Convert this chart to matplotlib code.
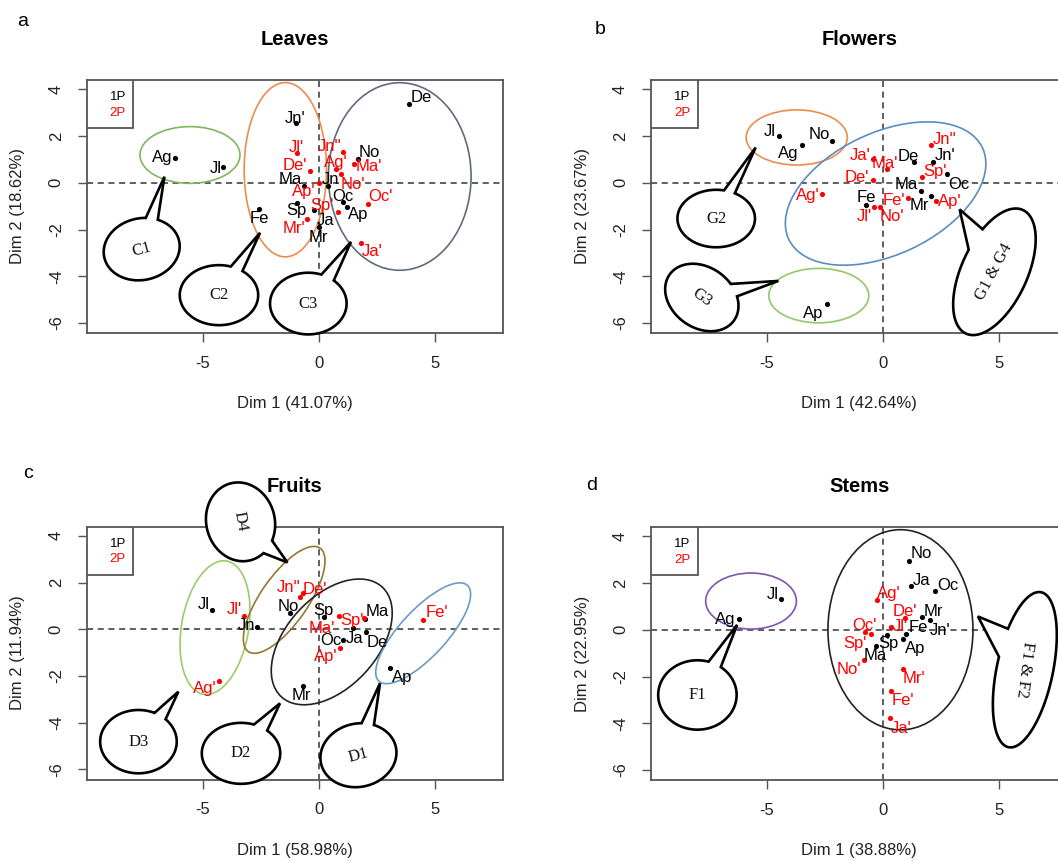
import numpy as np
import matplotlib
matplotlib.use("Agg")
import matplotlib.pyplot as plt
from matplotlib.patches import Ellipse, Polygon, Rectangle

plt.rcParams['font.family'] = ['Liberation Sans', 'DejaVu Sans']

# ---------------- data ----------------
# a) Leaves
leaves_1p_names = ['De', 'Ag', 'Jl', "Jn'", 'Fe', 'Ma', 'Sp', 'Ja', 'Mr', 'Jn', 'Oc', 'Ap', 'No']
leaves_1p_x = [3.91, -6.18, -4.11, -0.99, -2.57, -0.62, -0.95, -0.20, 0.00, 0.42, 1.03, 1.21, 1.67]
leaves_1p_y = [3.39, 1.07, 0.69, 2.54, -1.11, -0.13, -0.86, -1.17, -1.89, -0.13, -0.84, -1.03, 1.01]
leaves_2p_names = ["Jl'", "Jn''", "De'", "Ag'", "Ma'", "No'", "Ap'", "Sp'", "Oc'", "Mr'", "Ja'"]
leaves_2p_x = [-0.93, 1.03, -0.37, 0.75, 1.52, 0.96, 0.00, 0.85, 2.13, -0.50, 1.80]
leaves_2p_y = [1.29, 1.33, 0.50, 0.57, 0.79, 0.37, 0.00, -1.27, -0.90, -1.53, -2.56]

# b) Flowers
flowers_1p_names = ['Jl', 'Ag', 'No', 'De', "Jn'", 'Oc', 'Ma', 'Mr', 'Fe', 'Ap']
flowers_1p_x = [-4.48, -3.51, -2.18, 1.33, 2.15, 2.75, 1.62, 2.05, -0.74, -2.42]
flowers_1p_y = [1.99, 1.63, 1.81, 0.90, 0.90, 0.37, -0.36, -0.57, -0.93, -5.21]
flowers_2p_names = ["Jn''", "Ja'", "Ma'", "Sp'", "De'", "Ag'", "Fe'", "Ap'", "Jl'", "No'"]
flowers_2p_x = [2.08, -0.43, 0.19, 1.69, -0.43, -2.61, 1.07, 2.29, -0.40, -0.14]
flowers_2p_y = [1.63, 1.00, 0.59, 0.23, 0.14, -0.50, -0.67, -0.77, -1.03, -1.03]

# c) Fruits
fruits_1p_names = ['Jl', 'Jn', 'No', 'Sp', 'Ma', 'Ja', 'De', 'Oc', 'Mr', 'Ap']
fruits_1p_x = [-4.58, -2.64, -1.26, 0.24, 2.00, 1.49, 2.04, 1.06, -0.70, 3.07]
fruits_1p_y = [0.83, 0.10, 0.69, 0.51, 0.44, 0.04, -0.13, -0.46, -2.41, -1.67]
fruits_2p_names = ["Jl'", "Jn''", "De'", "Ma'", "Sp'", "Ap'", "Ag'", "Fe'"]
fruits_2p_x = [-3.20, -0.80, -0.66, 0.89, 1.96, 0.92, -4.28, 4.51]
fruits_2p_y = [0.57, 1.37, 1.54, 0.57, 0.47, -0.81, -2.21, 0.40]

# d) Stems
stems_1p_names = ['No', 'Ja', 'Oc', 'Jl', 'Ag', 'Mr', "Jn'", 'Fe', 'Sp', 'Ap', 'Ma']
stems_1p_x = [1.12, 1.22, 2.24, -4.41, -6.22, 1.70, 2.01, 1.01, 0.19, 0.86, -0.29]
stems_1p_y = [2.96, 1.89, 1.67, 1.31, 0.46, 0.54, 0.40, -0.17, -0.21, -0.40, -0.69]
stems_2p_names = ["Ag'", "De'", "Oc'", "Jl'", "Sp'", "No'", "Mr'", "Fe'", "Ja'"]
stems_2p_x = [-0.24, 0.96, -0.79, 0.36, -0.50, -0.83, 0.86, 0.36, 0.32]
stems_2p_y = [1.26, 0.50, -0.09, 0.13, -0.19, -1.30, -1.66, -2.64, -3.77]

titles = ['Leaves', 'Flowers', 'Fruits', 'Stems']
letters = ['a', 'b', 'c', 'd']
dim1_labels = ['Dim 1 (41.07%)', 'Dim 1 (42.64%)', 'Dim 1 (58.98%)', 'Dim 1 (38.88%)']
dim2_labels = ['Dim 2 (18.62%)', 'Dim 2 (23.67%)', 'Dim 2 (11.94%)', 'Dim 2 (22.95%)']
legend_labels = ['1P', '2P']
x_ticks = [-5, 0, 5]
y_ticks = [-6, -4, -2, 0, 2, 4]

# ---------------- label placement (pixel offsets) ----------------
off_a = {'De': (11.7, 6), 'Ag': (-13, 0), 'Jl': (-7.3, -2), "Jn'": (-0.7, 5), 'Fe': (0, -9.7),
         'Ma': (-14.3, 6.7), 'Sp': (-0.7, -7.3), 'Ja': (11, -10), 'Mr': (0, -10.7), 'Jn': (2.3, 6.7),
         'Oc': (0.7, 6.3), 'Ap': (11, -7.7), 'No': (12, 6.7),
         "Jl'": (-1, 5.3), "Jn''": (-13.3, 5.7), "De'": (-15, 6), "Ag'": (-0.7, 6.7), "Ma'": (14.3, -2.3),
         "No'": (12, -10), "Ap'": (-15.3, -9), "Sp'": (-16.7, 7), "Oc'": (12, 7), "Mr'": (-13.3, -10),
         "Ja'": (11.3, -9)}
off_b = {'Jl': (-9.7, 4.7), 'Ag': (-13.3, -8.7), 'No': (-12.7, 6.3), 'De': (-6, 5), "Jn'": (11.7, 6),
         'Oc': (12, -10.3), 'Ma': (-14.3, 6.7), 'Mr': (-11.7, -9), 'Fe': (0, 6.7), 'Ap': (-13.7, -9),
         "Jn''": (13.3, 5.7), "Ja'": (-13.3, 4.3), "Ma'": (-2.7, 5.7), "Sp'": (12.3, 6.3), "De'": (-16, 2),
         "Ag'": (-14.3, -0.7), "Fe'": (-14.3, -1.7), "Ap'": (13.3, -0.3), "Jl'": (-9, -9.3),
         "No'": (11.7, -9.3)}
off_c = {'Jl': (-9, 5), 'Jn': (-10.7, 1), 'No': (-1, 6.7), 'Sp': (-1, 7.3), 'Ma': (11.7, 7.3),
         'Ja': (1.7, -10), 'De': (11, -10), 'Oc': (-12.7, 0), 'Mr': (-0.7, -10.3), 'Ap': (11.7, -9),
         "Jl'": (-10.3, 6.7), "Jn''": (-11.7, 10), "De'": (11.7, 4), "Ma'": (-17.7, -12.3),
         "Sp'": (-12.3, -2.3), "Ap'": (-14.3, -8.3), "Ag'": (-14.3, -7.3), "Fe'": (13.3, 7.3)}
off_d = {'No': (12.3, 7), 'Ja': (10, 5), 'Oc': (13, 5), 'Jl': (-8.3, 4.3), 'Ag': (-13, 0),
         'Mr': (10.7, 5.7), "Jn'": (10, -10), 'Fe': (11.7, 6.7), 'Sp': (0.7, -9), 'Ap': (11.7, -9),
         'Ma': (-0.7, -10), "Ag'": (11.7, 6.7), "De'": (-0.7, 6.7), "Oc'": (0, 6.3), "Jl'": (9, 0.3),
         "Sp'": (-16.7, -9), "No'": (-14.7, -9.7), "Mr'": (10.7, -9.7), "Fe'": (11.7, -9.3),
         "Ja'": (11, -10.3)}

# cluster ellipses: (cx, cy, width, height, angle, color)
ell_a = [(-5.55, 1.19, 4.31, 2.43, 0, '#7DB85E'), (-1.44, 0.56, 3.55, 7.46, 0, '#EE8C4E'),
         (3.49, 0.27, 6.15, 8.03, 0, '#5F6B7E')]
ell_b = [(-3.72, 1.94, 4.36, 2.36, 0, '#EE8C4E'), (0.11, -0.46, 9.22, 5.23, 25, '#5B8DBE'),
         (-2.77, -4.83, 4.31, 2.33, 0, '#92C86A')]
ell_c = [(-4.47, 0.07, 5.79, 2.89, 80, '#9CCB6C'), (-1.49, 1.26, 5.4, 2.04, 55, '#957830'),
         (0.56, -0.54, 6.4, 3.9, 47, '#222222'), (4.5, -0.17, 5.6, 2.0, 47, '#6A9BC6')]
ell_d = [(-5.69, 1.23, 3.91, 2.4, 0, '#7E55AE'), (0.75, 0.0, 6.25, 8.57, 0, '#222222')]

# speech bubbles: (center, w, h, angle, tip, base1, base2, text, text rotation)
bub_a = [((-7.63, -2.84), 3.3, 2.64, 12, (-6.65, 0.26), (-7.44, -1.39), (-6.87, -1.46), 'C1', 15),
         ((-4.30, -4.81), 3.38, 2.57, 0, (-2.53, -2.14), (-3.75, -3.49), (-3.25, -3.74), 'C2', 0),
         ((-0.45, -5.17), 3.3, 2.64, 0, (1.39, -2.53), (0.13, -3.89), (0.66, -4.17), 'C3', 0)]
bub_b = [((-7.19, -1.53), 3.34, 2.46, 0, (-5.49, 1.51), (-6.73, 0.11), (-6.16, -0.14), 'G2', 0),
         ((-7.81, -4.91), 3.4, 2.6, -35, (-4.51, -4.2), (-6.52, -4.31), (-6.3, -4.86), 'G3', -35),
         ((4.8, -3.81), 5.83, 2.83, 65, (3.3, -1.14), (4.3, -2.03), (3.72, -2.89), 'G1 & G4', 62)]
bub_c = [((-3.37, 4.6), 3.4, 2.95, -75, (-1.35, 2.86), (-2.46, 3.37), (-2.07, 3.83), 'D4', -80),
         ((-7.77, -4.81), 3.3, 2.71, 0, (-6.05, -2.67), (-7.05, -3.53), (-6.55, -3.81), 'D3', 0),
         ((-3.35, -5.31), 3.38, 2.61, 0, (-1.67, -3.17), (-2.74, -3.96), (-2.17, -4.29), 'D2', 0),
         ((1.71, -5.39), 3.3, 2.71, 12, (2.64, -2.31), (1.85, -4.0), (2.43, -4.0), 'D1', 15)]
bub_d = [((-8.0, -2.79), 3.38, 2.97, 0, (-6.29, 0.21), (-7.5, -1.31), (-6.97, -1.57), 'F1', 0),
         ((6.11, -1.71), 6.78, 2.42, 78, (4.09, 0.57), (5.39, 0.03), (4.96, -1.14), 'F1 & F2', -97)]

panels = [
    (leaves_1p_names, leaves_1p_x, leaves_1p_y, leaves_2p_names, leaves_2p_x, leaves_2p_y, off_a, ell_a, bub_a),
    (flowers_1p_names, flowers_1p_x, flowers_1p_y, flowers_2p_names, flowers_2p_x, flowers_2p_y, off_b, ell_b, bub_b),
    (fruits_1p_names, fruits_1p_x, fruits_1p_y, fruits_2p_names, fruits_2p_x, fruits_2p_y, off_c, ell_c, bub_c),
    (stems_1p_names, stems_1p_x, stems_1p_y, stems_2p_names, stems_2p_x, stems_2p_y, off_d, ell_d, bub_d),
]

W, H = 1058, 861
fig = plt.figure(figsize=(W / 100, H / 100), dpi=100)
positions = [
    [86.7 / W, 1 - 333 / H, 416.3 / W, 253 / H],
    [651 / W, 1 - 333 / H, 416.3 / W, 253 / H],
    [86.7 / W, 1 - 779.5 / H, 416.3 / W, 253 / H],
    [651 / W, 1 - 780 / H, 416.3 / W, 253 / H],
]
letter_pos = [(23, 22), (600, 29), (28, 473), (592, 485)]
FRAME = '#555555'


def bubble(ax, c, w, h, ang, tip, b1, b2, text, rot):
    c = np.asarray(c, float)
    th = np.deg2rad(ang)
    R = np.array([[np.cos(th), -np.sin(th)], [np.sin(th), np.cos(th)]])

    def param(p):
        loc = R.T @ (np.asarray(p, float) - c)
        return np.arctan2(loc[1] / (h / 2), loc[0] / (w / 2))

    t1, t2 = param(b1), param(b2)
    d = (t2 - t1) % (2 * np.pi)
    if d < np.pi:
        ts = np.linspace(t2, t1 + 2 * np.pi, 300)
    else:
        ts = np.linspace(t1, t1 + d, 300)
    loc = np.vstack([w / 2 * np.cos(ts), h / 2 * np.sin(ts)])
    pts = (R @ loc).T + c
    pts = np.vstack([pts, np.asarray(tip, float)])
    poly = Polygon(pts, closed=True, fc='white', ec='black', lw=1.9, zorder=10,
                   clip_on=False, joinstyle='miter')
    ax.add_patch(poly)
    ax.text(c[0], c[1], text, family=['Liberation Serif', 'DejaVu Serif'], fontsize=12,
            rotation=rot, ha='center', va='center', zorder=11, color='#111111',
            rotation_mode='anchor')


for i, (n1, x1, y1, n2, x2, y2, offs, ells, bubs) in enumerate(panels):
    ax = fig.add_axes(positions[i])
    ax.set_xlim(-10.0, 7.94)
    ax.set_ylim(-6.43, 4.40)
    ax.set_xticks(x_ticks)
    ax.set_yticks(y_ticks)
    ax.set_xticklabels([str(t) for t in x_ticks])
    ax.set_yticklabels([str(t) for t in y_ticks])
    ax.tick_params(axis='both', direction='out', length=6.5, width=1.0, color=FRAME,
                   labelsize=12, labelcolor='#222222', pad=10)
    ax.tick_params(axis='y', labelrotation=90)
    for lab in ax.get_yticklabels():
        lab.set_va('center')
    for sp in ax.spines.values():
        sp.set_color(FRAME)
        sp.set_linewidth(1.3)

    ax.axhline(0, color='#333333', lw=1.1, ls=(0, (4, 3)), zorder=2)
    ax.axvline(0, color='#333333', lw=1.1, ls=(0, (4, 3)), zorder=2)

    for (cx, cy, ew, eh, ea, col) in ells:
        ax.add_patch(Ellipse((cx, cy), ew, eh, angle=ea, fill=False, ec=col, lw=1.2, zorder=3))

    ax.scatter(x1, y1, s=14, color='black', zorder=5, linewidths=0)
    ax.scatter(x2, y2, s=14, color='#FF0000', zorder=5, linewidths=0)
    for names, xs, ys, col in ((n1, x1, y1, 'black'), (n2, x2, y2, '#FF0000')):
        for nm, xv, yv in zip(names, xs, ys):
            dx, dy = offs.get(nm, (0, 8))
            ax.annotate(nm, (xv, yv), xytext=(dx, dy), textcoords='offset pixels',
                        ha='center', va='center', fontsize=12, color=col, zorder=6)

    for b in bubs:
        bubble(ax, *b)

    # legend box
    ax.add_patch(Rectangle((0, 1 - 0.191), 0.112, 0.191, transform=ax.transAxes,
                           fc='white', ec=FRAME, lw=1.3, zorder=12))
    ax.text(0.0945, 0.932, legend_labels[0], transform=ax.transAxes, ha='right', va='center',
            fontsize=9.5, color='black', zorder=13)
    ax.text(0.0945, 0.871, legend_labels[1], transform=ax.transAxes, ha='right', va='center',
            fontsize=9.5, color='#FF0000', zorder=13)

    ax.text(0.5, 1 + 40 / 253, titles[i], transform=ax.transAxes, ha='center', va='center',
            fontsize=14.5, fontweight='bold')
    ax.text(0.5, -71 / 253, dim1_labels[i], transform=ax.transAxes, ha='center', va='center',
            fontsize=12, color='#222222')
    ax.text(-68.7 / 416.3, 0.5, dim2_labels[i], transform=ax.transAxes, ha='center', va='center',
            fontsize=12, rotation=90, color='#222222')

    lx, ly = letter_pos[i]
    fig.text(lx / W, 1 - ly / H, letters[i], ha='center', va='center', fontsize=14)

fig.savefig('out.png', dpi=100)
